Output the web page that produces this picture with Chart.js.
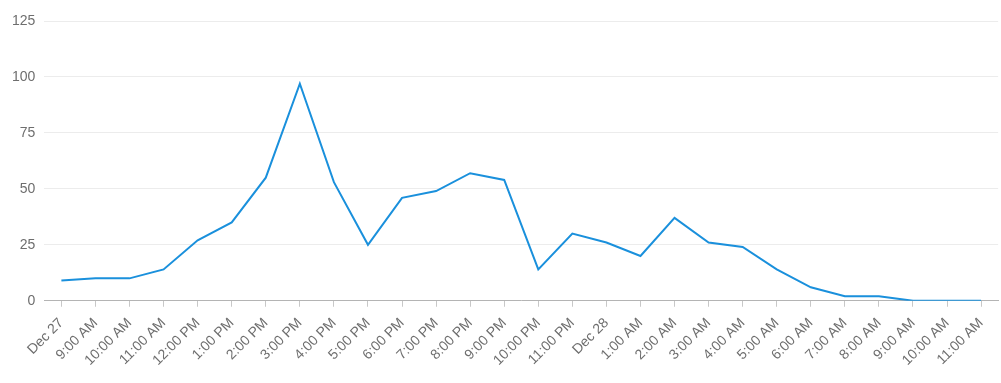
<!DOCTYPE html>
<html>
<head>
<meta charset="utf-8">
<script src="https://cdn.jsdelivr.net/npm/chart.js@4/dist/chart.umd.min.js"></script>
<style>
  html, body { margin: 0; padding: 0; background: #fff; }
  #wrap { width: 1001px; height: 383px; }
</style>
</head>
<body>
<div id="wrap"><canvas id="chart" width="1001" height="383"></canvas></div>
<script>
const labels = [
  "Dec 27", "9:00 AM", "10:00 AM", "11:00 AM", "12:00 PM", "1:00 PM", "2:00 PM",
  "3:00 PM", "4:00 PM", "5:00 PM", "6:00 PM", "7:00 PM", "8:00 PM", "9:00 PM",
  "10:00 PM", "11:00 PM", "Dec 28", "1:00 AM", "2:00 AM", "3:00 AM", "4:00 AM",
  "5:00 AM", "6:00 AM", "7:00 AM", "8:00 AM", "9:00 AM", "10:00 AM", "11:00 AM"
];
const counts = [9, 10, 10, 14, 27, 35, 55, 97, 53, 25, 46, 49, 57, 54, 14, 30, 26, 20, 37, 26, 24, 14, 6, 2, 2, 0, 0, 0];
const yMax = 125;
const yStep = 25;

const ctx = document.getElementById("chart").getContext("2d");
new Chart(ctx, {
  type: "line",
  data: {
    labels: labels,
    datasets: [{
      data: counts,
      borderColor: "#1a90dc",
      borderWidth: 2,
      pointRadius: 0,
      fill: false,
      tension: 0
    }]
  },
  options: {
    responsive: false,
    animation: false,
    layout: { padding: { left: 3, right: 0, top: 21, bottom: 6 } },
    plugins: { legend: { display: false }, tooltip: { enabled: false } },
    scales: {
      x: {
        offset: true,
        grid: { offset: false, drawOnChartArea: false, color: "#c8c8c8", tickLength: 6 },
        border: { color: "#b4b4b4" },
        ticks: {
          autoSkip: false,
          maxRotation: 45,
          minRotation: 45,
          color: "#6e6e6e",
          padding: 8,
          font: { family: "Liberation Sans, Arial, sans-serif", size: 14 }
        }
      },
      y: {
        min: 0,
        max: yMax,
        ticks: {
          stepSize: yStep,
          color: "#6e6e6e",
          padding: 9,
          font: { family: "Liberation Sans, Arial, sans-serif", size: 14 }
        },
        grid: { color: "#ececec", drawTicks: false },
        border: { display: false }
      }
    }
  }
});
</script>
</body>
</html>
